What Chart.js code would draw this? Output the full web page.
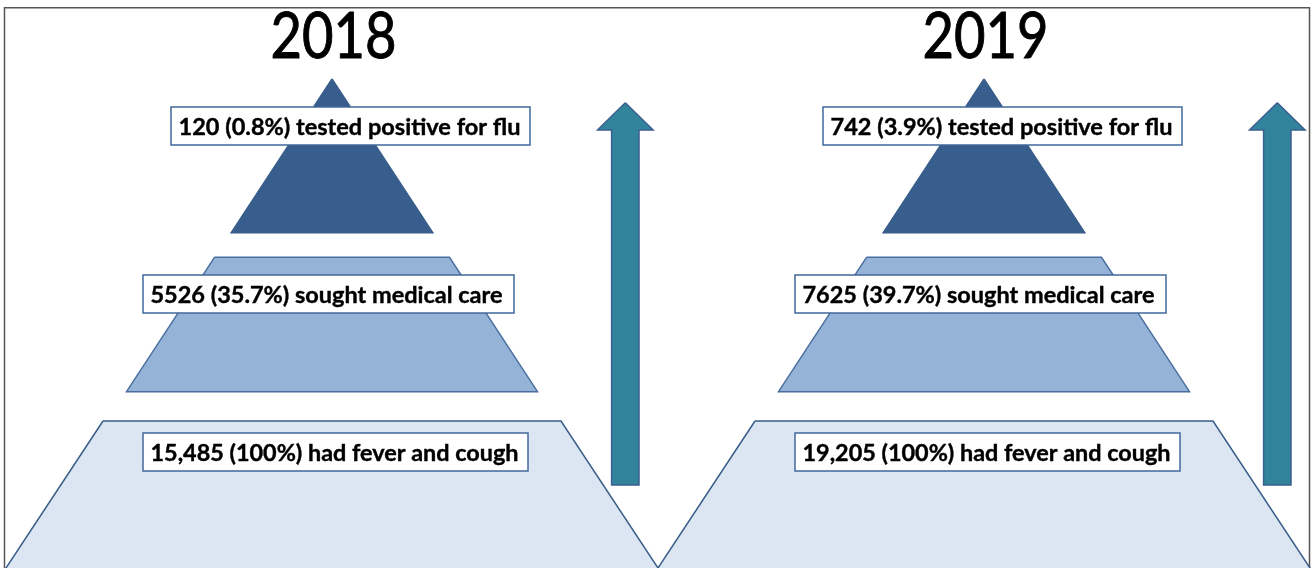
<!DOCTYPE html>
<html>
<head>
<meta charset="utf-8">
<script src="https://cdn.jsdelivr.net/npm/chart.js@4.4.1/dist/chart.umd.min.js"></script>
<style>
  html, body { margin: 0; padding: 0; background: #fff; }
  #pyramid { display: block; }
</style>
</head>
<body>
<canvas id="pyramid" width="1312" height="568"></canvas>
<script>
// values
const years = ['2018', '2019'];
const levels = ['tested positive for flu', 'sought medical care', 'had fever and cough'];
const counts2018 = [120, 5526, 15485];
const counts2019 = [742, 7625, 19205];
const pct2018 = [0.8, 35.7, 100];
const pct2019 = [3.9, 39.7, 100];

const counts = [counts2018, counts2019];
const pcts = [pct2018, pct2019];

// layout in canvas units (x 0..1312, y 0..568 top-down)
const panelCx = [332, 984];
const tiers = [
  { top: 79, bottom: 232.7, topHalf: 0, bottomHalf: 100.8, fill: '#385e8e', line: '#385d8a' },
  { top: 257.3, bottom: 391.7, topHalf: 117.5, bottomHalf: 205.5, fill: '#95b3d7', line: '#4a6f9f' },
  { top: 421, bottom: 590, topHalf: 229, bottomHalf: 340.5, fill: '#dce6f2', line: '#385d8a' }
];
const boxes = [
  { dx: -161, top: 107, w: 359, h: 38, textW: 342 },
  { dx: -189, top: 275, w: 371, h: 38, textW: 352 },
  { dx: -189, top: 433, w: 385, h: 38, textW: 368 }
];
const arrow = { dx: 293.3, shaftHalf: 13.7, headHalf: 27.8, tip: 102.7, headBase: 130, bottom: 485 };

function fmtCount(n) {
  return n >= 10000 ? n.toLocaleString('en-US') : String(n);
}
function labelText(p, i) {
  return fmtCount(counts[p][i]) + ' (' + pcts[p][i] + '%) ' + levels[i];
}

function tierPoints(p, t) {
  const cx = panelCx[p], s = tiers[t];
  return [
    { x: cx - s.topHalf, y: s.top },
    { x: cx + s.topHalf, y: s.top },
    { x: cx + s.bottomHalf, y: s.bottom },
    { x: cx - s.bottomHalf, y: s.bottom },
    { x: cx - s.topHalf, y: s.top }
  ];
}
function arrowPoints(p) {
  const cx = panelCx[p] + arrow.dx, a = arrow;
  return [
    { x: cx, y: a.tip },
    { x: cx + a.headHalf, y: a.headBase },
    { x: cx + a.shaftHalf, y: a.headBase },
    { x: cx + a.shaftHalf, y: a.bottom },
    { x: cx - a.shaftHalf, y: a.bottom },
    { x: cx - a.shaftHalf, y: a.headBase },
    { x: cx - a.headHalf, y: a.headBase },
    { x: cx, y: a.tip }
  ];
}

const datasets = [];
years.forEach((yr, p) => {
  tiers.forEach((s, t) => {
    datasets.push({
      label: yr + ' ' + levels[t],
      data: tierPoints(p, t),
      showLine: true,
      fill: 'shape',
      backgroundColor: s.fill,
      borderColor: s.line,
      borderWidth: 1.5,
      pointRadius: 0,
      tension: 0
    });
  });
  datasets.push({
    label: yr + ' arrow',
    data: arrowPoints(p),
    showLine: true,
    fill: 'shape',
    backgroundColor: '#31849b',
    borderColor: '#3b5f8f',
    borderWidth: 1.5,
    pointRadius: 0,
    tension: 0
  });
});

const frame = {
  id: 'frame',
  beforeDatasetsDraw(chart) {
    const { ctx, scales: { x, y } } = chart;
    ctx.save();
    ctx.strokeStyle = '#555555';
    ctx.lineWidth = 1.5;
    ctx.beginPath();
    ctx.moveTo(x.getPixelForValue(4.5), y.getPixelForValue(600));
    ctx.lineTo(x.getPixelForValue(4.5), y.getPixelForValue(7.8));
    ctx.lineTo(x.getPixelForValue(1309.5), y.getPixelForValue(7.8));
    ctx.lineTo(x.getPixelForValue(1309.5), y.getPixelForValue(600));
    ctx.stroke();
    ctx.restore();
  }
};

// draws text fitted to a target width, like the narrow original face
function fittedText(ctx, text, px, py, targetW, align) {
  const k = targetW / ctx.measureText(text).width;
  ctx.save();
  ctx.translate(px, py);
  ctx.scale(k, 1);
  ctx.textAlign = align;
  ctx.fillText(text, 0, 0);
  ctx.strokeText(text, 0, 0);
  ctx.restore();
}

const labels = {
  id: 'labels',
  afterDatasetsDraw(chart) {
    const { ctx, scales: { x, y } } = chart;
    ctx.save();
    // year titles
    ctx.fillStyle = '#000';
    ctx.strokeStyle = '#000';
    ctx.lineWidth = 1;
    ctx.textBaseline = 'alphabetic';
    ctx.font = '63px Lato, "Open Sans", sans-serif';
    years.forEach((yr, p) => {
      fittedText(ctx, yr, x.getPixelForValue(panelCx[p] + 1.5), y.getPixelForValue(58.3), 126, 'center');
    });
    // label boxes
    years.forEach((yr, p) => {
      boxes.forEach((b, i) => {
        const left = x.getPixelForValue(panelCx[p] + b.dx);
        const top = y.getPixelForValue(b.top);
        const w = x.getPixelForValue(panelCx[p] + b.dx + b.w) - left;
        const h = y.getPixelForValue(b.top + b.h) - top;
        ctx.fillStyle = '#ffffff';
        ctx.fillRect(left, top, w, h);
        ctx.strokeStyle = '#41689b';
        ctx.lineWidth = 1.5;
        ctx.strokeRect(left, top, w, h);
        ctx.fillStyle = '#000';
        ctx.strokeStyle = '#000';
        ctx.lineWidth = 0.4;
        ctx.textBaseline = 'alphabetic';
        ctx.font = 'bold 23px Lato, "Open Sans", sans-serif';
        fittedText(ctx, labelText(p, i), left + 7.5, top + h / 2 + 8.5, b.textW, 'left');
      });
    });
    ctx.restore();
  }
};

new Chart(document.getElementById('pyramid'), {
  type: 'scatter',
  data: { datasets: datasets },
  options: {
    responsive: false,
    animation: false,
    events: [],
    layout: { padding: 0 },
    plugins: { legend: { display: false }, tooltip: { enabled: false } },
    scales: {
      x: { type: 'linear', min: 0, max: 1312, display: false },
      y: { type: 'linear', min: 0, max: 568, reverse: true, display: false }
    }
  },
  plugins: [frame, labels]
});
</script>
</body>
</html>
